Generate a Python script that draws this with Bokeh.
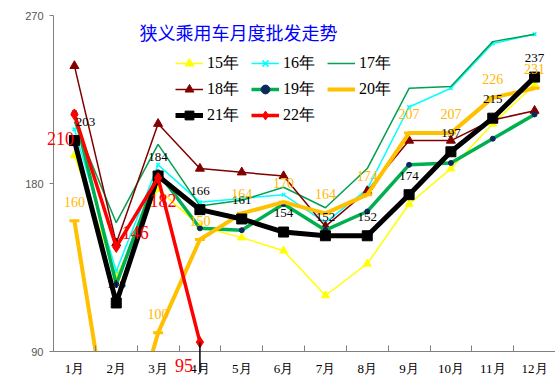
from bokeh.plotting import figure
from bokeh.models import (Range1d, FixedTicker, Legend, LegendItem, LabelSet, LinearAxis,
                          ColumnDataSource, Label, Arrow, BoxAnnotation)
from bokeh.embed import file_html
from bokeh.resources import INLINE

# ---------------- data ----------------
months = ["1月", "2月", "3月", "4月", "5月", "6月", "7月", "8月", "9月", "10月", "11月", "12月"]
y15 = [195, 130, 177, 157, 151, 144, 120, 137, 169, 188, 212, 233]
y16 = [209, 133, 190, 170, 172, 174, 159, 177, 221, 231, 255, 260]
y17 = [213, 159, 201, 168, 171, 178, 167, 188, 231, 232, 256, 260]
y18 = [243, 148, 212, 188, 186, 184, 157, 176, 203, 203, 214, 219]
y19 = [218, 126, 186, 156, 155, 169, 155, 165, 190, 191, 204, 217]
y20 = [160, 22, 100, 150, 164, 170, 164, 174, 207, 207, 226, 231]
y21 = [203, 116, 184, 166, 161, 154, 152, 152, 174, 197, 215, 237]
y22 = [217, 146, 183, 95]
labels20 = ["160", "", "100", "150", "164", "170", "164", "174", "207", "207", "226", "231"]
labels21 = ["203", "116", "184", "166", "161", "154", "152", "152", "174", "197", "215", "237"]
labels22 = ["210", "146", "182", "95"]
y_ticks = [90, 180, 270]
y_min, y_max = 90, 270
title_text = "狭义乘用车月度批发走势"

xs = [i + 0.5 for i in range(len(months))]
n = len(months)

# canvas geometry (pixels)
W, H = 555, 378
L, R, T, B = 53, 0, 15, 27
py = (H - T - B) / (y_max - y_min)   # px per unit
px = (W - L - R) / n

p = figure(width=W, height=H,
           x_range=Range1d(-L / px, n + R / px),
           y_range=Range1d(y_min - B / py, y_max + T / py),
           output_backend="svg", toolbar_location=None,
           x_axis_type=None, y_axis_type=None, min_border=0)
p.outline_line_color = None
p.background_fill_color = "white"
p.border_fill_color = "white"

# axes at fixed data locations
xa = LinearAxis(fixed_location=y_min, bounds=(0, n),
                ticker=FixedTicker(ticks=xs, minor_ticks=list(range(n + 1))))
xa.major_label_overrides = {x: m for x, m in zip(xs, months)}
xa.major_tick_line_color = None
xa.minor_tick_in = 6
xa.minor_tick_out = 0
xa.minor_tick_line_color = "#808080"
xa.axis_line_color = "#808080"
xa.major_label_text_font = "Liberation Serif"
xa.major_label_text_font_size = "13px"
xa.major_label_text_color = "black"
xa.major_label_standoff = 3
p.add_layout(xa, "below")

ya = LinearAxis(fixed_location=0, bounds=(y_min, y_max), ticker=FixedTicker(ticks=y_ticks))
ya.minor_tick_line_color = None
ya.major_tick_in = 0
ya.major_tick_out = 4
ya.major_tick_line_color = "#808080"
ya.axis_line_color = "#808080"
ya.major_label_text_font = "Liberation Sans"
ya.major_label_text_font_size = "11px"
ya.major_label_text_color = "#555555"
ya.major_label_standoff = 6
p.add_layout(ya, "left")

FONT_SERIF = "Liberation Serif"

def series(ys, color, width, marker=None, msize=8, mfill=None, mline=None, mlw=1):
    xx = xs[:len(ys)]
    src = ColumnDataSource(dict(x=xx, y=ys))
    rs = [p.line("x", "y", source=src, line_color=color, line_width=width)]
    if marker:
        rs.append(p.scatter("x", "y", source=src, marker=marker, size=msize,
                            fill_color=mfill or color, line_color=mline or color, line_width=mlw))
    return rs

r15 = series(y15, "#FFFF00", 1.5, "triangle", 8)
r16 = series(y16, "#00FFFF", 1.5, "x", 5, mlw=1.5)
r17 = series(y17, "#00A050", 1.5)
r18 = series(y18, "#800000", 1.5, "triangle", 9)
r19 = series(y19, "#00B050", 3.5, "circle", 5, mfill="#0B2A5B", mline="#0B2A5B")
r20 = series(y20, "#FFC000", 4, "dash", 10, mlw=3)
r21 = series(y21, "black", 5, "square", 10)
r22 = series(y22, "#FF0000", 3.5, "diamond", 11)

# hide whatever falls below the value axis minimum (plot area clipping)
p.add_layout(BoxAnnotation(top=y_min, fill_color="white", fill_alpha=1.0,
                           line_color=None, level="glyph"))

# leader line under the 4月 point of 22年
p.add_layout(Arrow(end=None, x_start=xs[3], y_start=y22[3], x_end=xs[3], y_end=y22[3] - 16,
                   line_color="black", line_width=1.5))

# data labels
src21 = ColumnDataSource(dict(x=xs, y=y21, t=labels21, dx=[11] + [0] * 11))
p.add_layout(LabelSet(x="x", y="y", text="t", source=src21, x_offset="dx", y_offset=19,
                      text_align="center", text_baseline="middle", text_color="black",
                      text_font=FONT_SERIF, text_font_size="13px"))
src20 = ColumnDataSource(dict(x=xs, y=y20, t=labels20))
p.add_layout(LabelSet(x="x", y="y", text="t", source=src20, y_offset=19,
                      text_align="center", text_baseline="middle", text_color="#FFB800",
                      text_font=FONT_SERIF, text_font_size="14px"))
src22 = ColumnDataSource(dict(x=xs[:4], y=y22, t=labels22,
                              dx=[-14, 19, 5, -16], dy=[-24, 14, -23, -23]))
p.add_layout(LabelSet(x="x", y="y", text="t", source=src22, x_offset="dx", y_offset="dy",
                      text_align="center", text_baseline="middle", text_color="#FF0000",
                      text_font=FONT_SERIF, text_font_size="18px"))

# title inside the plot
p.add_layout(Label(x=4.42, y=261.4, text=title_text, text_align="center", text_baseline="middle",
                   text_color="#0000FF", text_font="Noto Sans CJK SC", text_font_size="18px"))

legend = Legend(items=[
    LegendItem(label="15年", renderers=r15),
    LegendItem(label="16年", renderers=r16),
    LegendItem(label="17年", renderers=r17),
    LegendItem(label="18年", renderers=r18),
    LegendItem(label="19年", renderers=r19),
    LegendItem(label="20年", renderers=r20),
    LegendItem(label="21年", renderers=r21),
    LegendItem(label="22年", renderers=r22),
], orientation="horizontal", ncols=3, location=(175, H - 126),
    glyph_width=28, glyph_height=22, label_height=22, label_width=40,
    label_standoff=4, spacing=4, padding=0, margin=0,
    border_line_color=None, background_fill_alpha=0,
    label_text_font=FONT_SERIF, label_text_font_size="16px", label_text_color="black")
p.add_layout(legend)

open("out.html", "w").write(file_html(p, INLINE))
